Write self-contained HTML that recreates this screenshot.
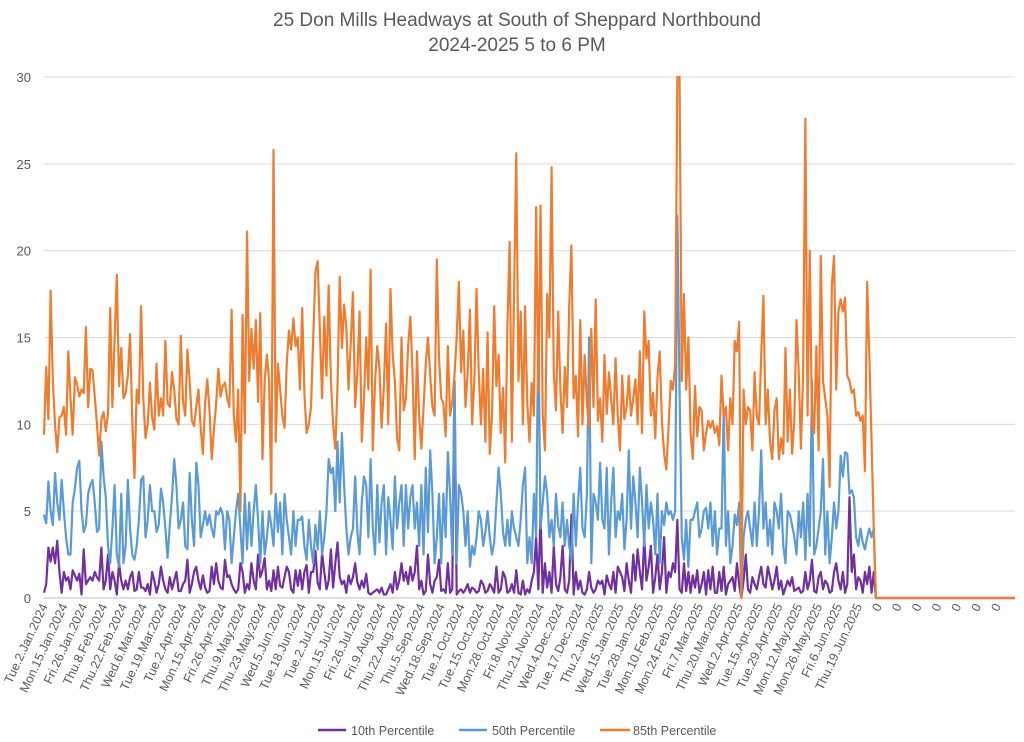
<!DOCTYPE html>
<html><head><meta charset="utf-8">
<style>
html,body{margin:0;padding:0;background:#fff;}
svg{display:block;font-family:"Liberation Sans",sans-serif;}
</style></head>
<body>
<svg id="chart" width="1024" height="742" viewBox="0 0 1024 742" xmlns="http://www.w3.org/2000/svg">
<text x="517" y="26" text-anchor="middle" font-size="19" fill="#595959">25 Don Mills Headways at South of Sheppard Northbound</text>
<text x="517" y="51" text-anchor="middle" font-size="19" fill="#595959">2024-2025 5 to 6 PM</text>
<g id="grid"></g>
<g id="yaxis"></g>
<g id="xaxis"></g>
<g id="series"></g>
<g>
<g><line x1="318" y1="730" x2="346" y2="730" stroke="#7030a0" stroke-width="2.5"/><text x="351" y="735" font-size="12.5" fill="#595959">10th Percentile</text></g>
<g><line x1="459" y1="730" x2="487" y2="730" stroke="#5b9bd5" stroke-width="2.5"/><text x="492" y="735" font-size="12.5" fill="#595959">50th Percentile</text></g>
<g><line x1="600" y1="730" x2="630" y2="730" stroke="#ed7d31" stroke-width="2.5"/><text x="633" y="735" font-size="12.5" fill="#595959">85th Percentile</text></g>
</g>
</svg>
<script>
const tickLabels = ["Tue.2.Jan.2024","Mon.15.Jan.2024","Fri.26.Jan.2024","Thu.8.Feb.2024","Thu.22.Feb.2024","Wed.6.Mar.2024","Tue.19.Mar.2024","Tue.2.Apr.2024","Mon.15.Apr.2024","Fri.26.Apr.2024","Thu.9.May.2024","Thu.23.May.2024","Wed.5.Jun.2024","Tue.18.Jun.2024","Tue.2.Jul.2024","Mon.15.Jul.2024","Fri.26.Jul.2024","Fri.9.Aug.2024","Thu.22.Aug.2024","Thu.5.Sep.2024","Wed.18.Sep.2024","Tue.1.Oct.2024","Tue.15.Oct.2024","Mon.28.Oct.2024","Fri.8.Nov.2024","Thu.21.Nov.2024","Wed.4.Dec.2024","Tue.17.Dec.2024","Thu.2.Jan.2025","Wed.15.Jan.2025","Tue.28.Jan.2025","Mon.10.Feb.2025","Mon.24.Feb.2025","Fri.7.Mar.2025","Thu.20.Mar.2025","Wed.2.Apr.2025","Tue.15.Apr.2025","Tue.29.Apr.2025","Mon.12.May.2025","Mon.26.May.2025","Fri.6.Jun.2025","Thu.19.Jun.2025","0","0","0","0","0","0","0"];
const yTicks = [0,5,10,15,20,25,30];
const totalPoints = 441;
const p85 = [9.4,13.3,10.3,17.7,12.5,10.0,8.4,10.4,10.5,11.0,9.4,14.2,11.5,9.4,12.7,12.3,11.6,12.0,
11.8,15.6,11.0,13.2,13.1,11.6,10.0,8.2,10.3,10.7,9.6,10.6,16.7,11.0,15.0,18.6,12.2,14.4,
11.5,11.8,12.8,15.2,10.2,6.9,12.0,11.2,16.8,11.5,9.2,10.0,12.4,10.4,9.7,13.5,10.5,11.5,
10.5,14.8,11.2,11.0,13.0,12.0,10.3,10.0,15.1,11.3,10.5,14.3,12.5,10.2,9.9,11.0,12.0,9.8,
8.3,11.2,12.6,10.8,8.0,9.7,11.2,13.2,11.6,12.2,12.4,11.5,11.0,16.6,10.5,9.0,12.0,5.0,
16.3,9.5,21.1,12.5,15.5,13.2,16.0,11.3,16.4,8.0,12.5,14.0,12.5,6.0,25.8,9.0,13.5,12.0,
10.5,9.8,13.5,15.4,14.3,16.1,14.5,15.0,12.0,16.7,11.8,9.5,10.0,11.0,15.0,18.8,19.4,15.5,
11.5,16.2,12.8,18.0,12.5,10.0,8.6,12.2,18.5,14.4,16.9,15.6,12.0,14.7,17.6,11.0,13.0,16.5,
9.0,11.5,15.0,12.0,18.9,8.5,12.4,14.5,13.2,9.8,12.2,15.8,10.0,17.8,14.0,12.5,9.2,8.5,
15.0,10.8,11.5,14.5,16.2,13.0,8.0,14.2,10.5,8.6,11.0,13.5,15.0,12.8,11.0,10.5,19.5,13.8,
11.5,11.2,9.3,14.5,10.5,11.3,12.8,15.0,18.2,13.0,15.4,11.0,13.0,16.6,10.0,12.5,17.8,13.0,
10.0,13.2,9.0,15.3,8.3,10.5,16.8,12.2,14.0,9.5,12.1,7.8,15.8,20.5,9.0,17.5,25.6,12.5,
16.5,10.0,16.8,11.2,9.0,12.4,10.5,22.5,11.8,22.6,10.5,8.5,17.5,15.0,24.8,13.0,10.8,16.5,
12.0,9.5,13.3,11.0,16.8,20.3,11.5,12.8,9.3,16.0,10.0,14.0,11.2,9.8,15.5,11.0,17.2,10.2,
11.5,9.0,14.0,10.6,13.0,11.5,10.0,13.8,10.5,8.5,12.8,10.3,11.0,12.8,10.5,11.5,12.6,10.0,
14.2,9.5,16.5,13.8,14.8,10.5,11.8,9.2,12.7,14.2,10.2,8.3,7.4,9.8,12.5,12.0,13.5,30.0,
30.0,12.5,17.5,12.0,15.0,9.5,8.0,12.2,9.3,11.0,10.8,8.5,9.5,10.2,9.8,10.2,9.5,9.9,
8.8,12.8,10.5,11.0,8.5,11.5,10.0,14.8,14.2,15.9,0.0,12.0,10.0,11.0,10.8,8.5,13.0,10.5,
10.0,14.0,17.4,10.0,12.0,9.0,8.0,10.8,11.5,8.0,9.2,8.3,14.4,9.0,12.0,8.3,10.2,16.0,
13.0,8.6,13.0,27.6,10.5,20.0,10.0,9.5,14.5,8.5,19.7,12.5,11.5,10.5,6.4,18.0,19.7,12.0,
16.5,17.2,16.5,17.3,12.8,12.5,11.8,12.0,10.5,10.7,10.2,10.5,7.3,18.2,14.0,9.0,4.0,0];
const p50 = [4.8,4.3,6.7,5.0,4.2,7.2,5.5,4.5,6.8,5.0,3.5,2.5,2.5,5.5,6.3,7.5,7.9,5.0,
3.8,4.2,6.0,6.5,6.8,5.5,3.8,4.0,9.0,7.0,5.8,3.0,2.0,4.0,6.5,2.5,1.8,6.0,
2.0,3.0,6.8,4.0,2.5,2.2,3.0,4.5,6.8,7.0,3.5,4.5,6.5,5.0,5.0,3.8,4.2,6.3,
5.5,4.0,2.3,4.2,5.8,8.0,6.5,4.0,4.5,5.5,3.0,2.8,7.2,4.5,3.0,7.8,6.5,3.5,
4.2,5.0,4.2,4.8,4.0,3.5,5.0,4.8,5.2,4.8,2.8,5.0,4.5,2.0,3.5,5.0,6.0,4.0,
2.0,6.0,2.8,5.5,3.0,5.0,6.5,4.5,2.0,5.0,2.5,3.5,5.0,4.2,3.0,6.0,3.8,5.5,
2.5,6.0,4.5,3.5,2.5,5.0,3.0,4.5,4.5,4.7,3.0,2.2,4.5,3.0,2.0,4.2,2.8,5.0,
2.5,3.5,5.0,8.0,7.2,7.5,5.0,9.0,5.5,9.5,6.5,4.0,2.5,3.5,4.0,7.0,3.8,2.5,
5.5,7.0,6.5,3.5,8.0,4.0,2.5,6.5,3.2,5.5,6.5,2.5,5.8,4.5,2.8,7.0,4.0,5.5,
6.5,3.0,6.5,4.0,5.8,6.5,4.0,5.5,3.0,6.5,2.5,7.5,3.8,8.5,6.0,2.0,3.5,6.0,
2.0,6.0,3.5,8.4,6.0,2.5,12.5,2.0,6.5,6.0,5.0,3.0,5.0,1.8,3.0,2.5,3.5,5.0,
4.5,3.0,3.8,5.0,3.5,2.5,3.2,5.5,7.5,6.0,3.8,3.0,4.5,3.0,5.0,4.0,3.5,3.0,
4.5,6.5,7.5,2.0,3.5,2.0,6.0,3.5,16.0,4.0,5.5,7.0,6.0,3.5,4.5,3.0,6.0,4.2,
3.5,5.5,3.0,4.5,3.0,2.2,6.0,3.0,5.5,7.5,4.0,3.5,6.0,15.0,2.0,6.0,5.5,4.5,
7.8,4.5,4.0,7.5,2.5,5.5,7.5,3.5,5.0,4.5,6.0,2.8,4.5,8.5,4.0,7.0,5.5,3.5,
7.5,5.5,3.0,6.5,4.0,5.5,4.5,2.5,6.0,2.0,5.0,4.2,5.5,4.8,5.0,4.5,5.0,22.0,
12.0,3.5,2.2,4.5,1.8,4.5,4.5,5.0,5.5,3.5,4.0,5.0,5.2,4.0,5.5,3.0,5.0,2.5,
4.0,4.0,10.8,3.0,5.0,2.0,3.0,4.8,4.2,5.5,0.0,3.5,4.5,5.0,4.0,3.0,5.5,3.0,
5.0,8.5,4.0,5.5,3.0,4.5,2.5,5.5,5.0,4.0,6.0,3.0,2.0,5.0,4.8,4.2,3.5,2.5,
5.0,3.5,5.5,2.2,6.0,3.0,12.5,2.5,3.0,4.0,5.0,8.0,2.5,5.0,2.0,3.5,5.5,4.0,
5.0,8.2,7.0,8.4,8.3,6.0,6.2,5.8,3.5,3.0,4.0,3.2,2.8,3.5,4.0,3.5,4.0,0];
const p10 = [0.3,0.8,2.9,2.1,2.9,2.0,3.3,1.5,0.3,1.5,1.0,1.2,0.5,1.6,1.3,1.0,1.4,0.2,
2.8,0.8,1.0,1.2,1.0,1.5,1.2,1.0,2.9,0.5,1.0,2.5,0.5,1.5,1.0,0.2,2.0,1.0,
0.5,1.0,0.5,1.2,1.5,0.4,0.5,1.5,0.6,0.6,0.4,0.8,0.2,1.5,1.0,0.3,0.8,1.8,
1.0,0.5,0.3,1.2,0.5,1.0,1.5,0.4,0.4,0.8,1.0,2.2,0.3,0.8,1.5,1.8,1.0,0.5,
1.3,0.6,0.3,0.4,1.8,0.8,2.0,1.0,0.6,0.5,2.2,1.2,1.3,0.8,0.5,0.3,0.5,2.0,
1.5,0.3,0.8,0.5,2.0,1.0,0.5,2.5,1.2,1.6,2.3,0.5,1.0,0.4,1.6,0.5,1.8,0.7,
0.6,1.2,1.8,1.5,0.5,0.3,1.6,0.7,1.6,0.5,1.5,1.9,0.3,1.5,1.5,2.7,0.9,0.5,
2.6,1.5,0.5,1.0,2.8,0.6,2.0,3.2,1.2,0.8,1.0,0.3,1.3,0.8,1.2,2.0,0.9,0.5,
1.0,0.6,1.4,0.3,0.2,0.3,0.4,0.5,0.3,0.6,0.2,0.2,0.5,0.8,0.3,1.5,0.5,1.0,
2.0,1.0,1.5,0.8,1.8,1.0,1.5,3.0,0.5,1.0,0.2,0.4,2.5,0.8,0.3,1.0,1.2,2.2,
0.4,0.5,0.3,2.0,0.3,0.5,12.5,0.2,0.4,0.5,0.3,0.5,0.8,0.3,0.6,0.5,0.3,0.4,
1.0,0.8,0.3,0.4,0.8,0.6,0.3,1.8,0.3,0.5,1.5,1.2,0.3,0.4,0.8,0.3,1.6,0.3,
0.2,1.0,0.2,0.5,0.3,1.0,1.5,3.5,0.5,4.8,0.3,2.0,0.6,1.5,0.3,3.0,0.8,0.4,
1.2,3.0,0.5,0.3,1.0,4.8,0.2,1.5,0.5,1.0,0.3,0.2,0.5,1.5,0.6,0.3,0.5,1.0,
0.8,1.0,0.2,1.3,0.8,0.5,1.5,0.3,1.8,1.5,1.2,0.4,2.0,1.0,0.3,2.5,1.0,2.8,
1.5,0.5,3.5,1.0,1.8,3.0,0.3,1.2,2.5,0.5,1.5,3.5,0.3,1.5,1.2,2.0,1.5,4.5,
0.5,0.3,2.0,0.4,1.5,0.3,1.3,0.6,1.6,0.3,0.8,1.5,0.2,1.6,0.5,1.8,0.3,0.3,
1.5,0.4,1.8,0.2,0.8,1.0,1.2,0.4,2.0,0.8,0.0,1.0,2.5,0.5,0.3,1.2,0.8,0.5,
1.2,1.8,0.8,0.6,1.8,1.2,0.5,1.0,1.8,0.5,1.0,0.2,0.6,1.0,0.7,1.2,0.4,0.5,
0.6,0.3,0.4,1.5,0.5,1.0,2.2,0.4,0.3,1.2,1.5,0.5,1.0,0.8,0.3,0.4,1.5,2.0,
1.0,0.5,1.5,0.3,0.8,5.8,1.5,2.5,0.5,1.2,1.0,0.3,1.5,0.8,1.8,0.3,1.5,0];

const NS = "http://www.w3.org/2000/svg";
const X0 = 44, X1 = 1015, Y0 = 598, Y1 = 77, YMAX = 30;
function xScale(i){ return X0 + i * (X1 - X0) / (totalPoints - 1); }
function yScale(v){ return Y0 - (Math.min(v, YMAX) / YMAX) * (Y0 - Y1); }
function mk(tag, attrs, parent){ const e = document.createElementNS(NS, tag); for (const k in attrs) e.setAttribute(k, attrs[k]); parent.appendChild(e); return e; }

const grid = document.getElementById('grid');
const yaxis = document.getElementById('yaxis');
yTicks.forEach(t => {
  const y = yScale(t);
  const ln = mk('line', {x1: X0, x2: X1, y1: y, y2: y, stroke: t === 0 ? '#bfbfbf' : '#d9d9d9', 'stroke-width': 1}, grid);
  
  
  const tx = mk('text', {x: 31, y: y + 5, 'text-anchor': 'end', 'font-size': 13, fill: '#595959'}, yaxis);
  tx.textContent = t;
  
  
});

const xaxis = document.getElementById('xaxis');
tickLabels.forEach((lab, k) => {
  const x = xScale(k * 9) + 4;
  const y = 606;
  const tx = mk('text', {x: x, y: y, 'text-anchor': 'end', 'font-size': 12.5, fill: '#595959', transform: 'rotate(-65 ' + x + ' ' + y + ')'}, xaxis);
  tx.textContent = lab;
  
  
});

const seriesG = document.getElementById('series');
function drawSeries(vals, color, name){
  let d = '';
  for (let i = 0; i < totalPoints; i++) {
    const v = i < vals.length ? vals[i] : 0;
    d += (i ? 'L' : 'M') + xScale(i).toFixed(2) + ' ' + yScale(v).toFixed(2);
  }
  const p = mk('path', {d: d, fill: 'none', stroke: color, 'stroke-width': 2.2, 'stroke-linejoin': 'round'}, seriesG);
  
  
}
drawSeries(p10, '#7030a0', 'line-10th-percentile');
drawSeries(p50, '#5b9bd5', 'line-50th-percentile');
drawSeries(p85, '#ed7d31', 'line-85th-percentile');
</script>
</body></html>
